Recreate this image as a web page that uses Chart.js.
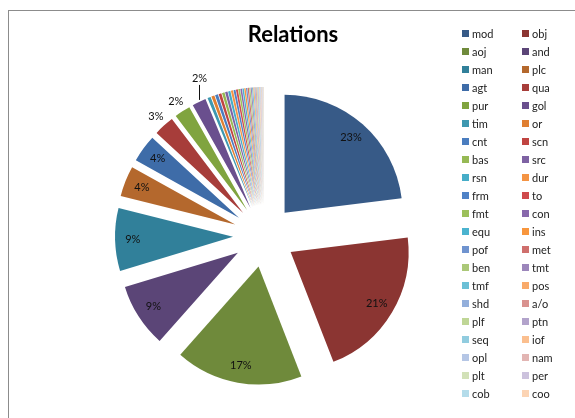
<!DOCTYPE html>
<html>
<head>
<meta charset="utf-8">
<title>Relations</title>
<script src="https://cdn.jsdelivr.net/npm/chart.js@4.4.1/dist/chart.umd.min.js"></script>
<style>
  html, body { margin: 0; padding: 0; background: #fff; }
  #wrap { position: relative; width: 575px; height: 418px; overflow: hidden; }
  #frame { position: absolute; left: 8px; top: 10px; width: 620px; height: 460px; border: 1px solid #8c8c8c; box-sizing: border-box; }
  #chartBox { position: absolute; left: 0; top: 0; width: 575px; height: 418px; }
  #title { position: absolute; left: 193px; width: 200px; top: 23px; text-align: center; font: bold 22px/22px Lato, sans-serif; color: #000; }
  #legend { position: absolute; left: 462px; top: 24px; display: grid; grid-template-columns: 60px 60px; grid-auto-rows: 18px; font: 11px Lato, sans-serif; color: #222; }
  .item { display: flex; align-items: center; white-space: nowrap; }
  .swatch { width: 7px; height: 7px; margin-right: 3px; flex: none; }
</style>
</head>
<body>
<div id="wrap">
  <div id="frame"></div>
  <div id="chartBox"><canvas id="pieChart"></canvas></div>
  <div id="title">Relations</div>
  <div id="legend"></div>
</div>
<script>
// =======================
// Data
// =======================
const categories = ["mod","obj","aoj","and","man","plc","agt","qua","pur","gol",
  "tim","or","cnt","scn","bas","src","rsn","dur","frm","to",
  "fmt","con","equ","ins","pof","met","ben","tmt","tmf","pos",
  "shd","a/o","plf","ptn","seq","iof","opl","nam","plt","per",
  "cob","coo"];

// share of each relation, in percent
const shares = [23.1, 21.1, 17.5, 8.8, 8.6, 4.2, 3.8, 2.8, 2.2, 1.9,
  0.45, 0.42, 0.40, 0.38, 0.35, 0.33, 0.31, 0.29, 0.27, 0.25,
  0.23, 0.22, 0.20, 0.19, 0.18, 0.17, 0.16, 0.15, 0.14, 0.13,
  0.12, 0.11, 0.10, 0.10, 0.09, 0.09, 0.08, 0.08, 0.07, 0.07,
  0.06, 0.06];

// Office 2007 style palette, 6 hues going from dark to light
const colors = [
  "#375A87","#8B3532","#6F8A3B","#5B4577","#31809A","#B4682D",
  "#3E6CA8","#A73D3A","#80A43F","#6A4F8E","#3E98B0","#E07F31",
  "#4A7DBF","#C04441","#96B954","#7E62A3","#46ADC8","#F49444",
  "#4F82C6","#CF4A4C","#9CC05A","#8868AC","#4BB3CF","#F8963D",
  "#6F93CF","#CF6F6D","#ABC878","#9C86BB","#6CC0D6","#F9AA6A",
  "#93AFDB","#D9928F","#BFD696","#B2A3CB","#91CCDF","#FBBF8F",
  "#B5C6E5","#E2B5B3","#D2E1B8","#CCC2DD","#B4DCEA","#FCD4B4"
];

const total = shares.reduce((a, b) => a + b, 0);
const EXPLODE = 31;   // px every slice is pulled out
const RADIUS = 118;

// =======================
// Plugins: explode slices + percent labels
// =======================
const explodePlugin = {
  id: "explode",
  beforeDatasetsDraw(chart) {
    const a = chart.chartArea;
    const cx = (a.left + a.right) / 2, cy = (a.top + a.bottom) / 2;
    chart.getDatasetMeta(0).data.forEach(arc => {
      const mid = (arc.startAngle + arc.endAngle) / 2;
      arc.x = cx + Math.cos(mid) * EXPLODE;
      arc.y = cy + Math.sin(mid) * EXPLODE;
    });
  }
};

const labelPlugin = {
  id: "pctLabels",
  afterDatasetsDraw(chart) {
    const ctx = chart.ctx;
    ctx.save();
    ctx.font = "11px Lato, sans-serif";
    ctx.fillStyle = "#111";
    ctx.strokeStyle = "#111";
    ctx.lineWidth = 1;
    ctx.textAlign = "center";
    ctx.textBaseline = "middle";
    chart.getDatasetMeta(0).data.forEach((arc, i) => {
      const pct = shares[i] / total * 100;
      if (pct < 1.5) return;
      const txt = Math.round(pct) + "%";
      const mid = (arc.startAngle + arc.endAngle) / 2;
      const r = arc.outerRadius;
      const c = Math.cos(mid), s = Math.sin(mid);
      if (pct >= 3.5) {
        ctx.fillText(txt, arc.x + c * r * 0.85, arc.y + s * r * 0.85);
      } else if (pct >= 2) {
        ctx.fillText(txt, arc.x + c * (r + 12), arc.y + s * (r + 12));
      } else {
        // tiny slice: label lifted above with a leader line
        const ex = Math.round(arc.x + c * r) + 0.5, ey = arc.y + s * r;
        ctx.beginPath();
        ctx.moveTo(ex, ey - 2);
        ctx.lineTo(ex, ey - 17);
        ctx.stroke();
        ctx.fillText(txt, ex, ey - 23);
      }
    });
    ctx.restore();
  }
};

// =======================
// Chart
// =======================
new Chart(document.getElementById("pieChart"), {
  type: "pie",
  data: {
    labels: categories,
    datasets: [{
      data: shares,
      backgroundColor: colors,
      borderWidth: 0
    }]
  },
  options: {
    responsive: true,
    maintainAspectRatio: false,
    animation: false,
    events: [],
    radius: RADIUS,
    layout: { padding: { left: 20, right: 67, top: 54, bottom: 0 } },
    plugins: {
      legend: { display: false },
      tooltip: { enabled: false },
      title: { display: false }
    }
  },
  plugins: [explodePlugin, labelPlugin]
});

// =======================
// Legend (two columns, row by row)
// =======================
const legend = document.getElementById("legend");
categories.forEach((name, i) => {
  const item = document.createElement("div");
  item.className = "item";
  const sw = document.createElement("span");
  sw.className = "swatch";
  sw.style.background = colors[i];
  item.appendChild(sw);
  item.appendChild(document.createTextNode(name));
  legend.appendChild(item);
});
</script>
</body>
</html>
